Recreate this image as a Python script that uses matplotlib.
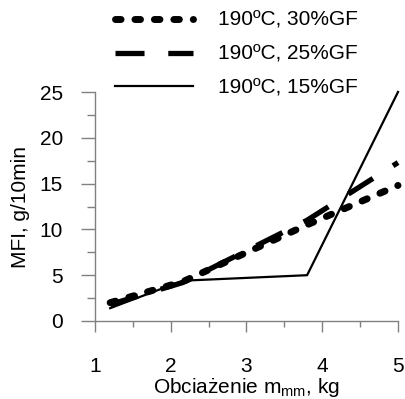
import matplotlib
matplotlib.use("Agg")
import matplotlib.pyplot as plt
from matplotlib.ticker import MultipleLocator

plt.rcParams['font.family'] = ['Liberation Sans', 'DejaVu Sans']
plt.rcParams['mathtext.fontset'] = 'custom'
plt.rcParams['mathtext.rm'] = 'Liberation Sans'
plt.rcParams['mathtext.it'] = 'Liberation Sans'

load_kg = [1.2, 2.16, 3.8, 5.0]
mfi_30gf = [2.0, 4.3, 10.5, 14.8]
mfi_25gf = [1.8, 4.2, 11.0, 17.3]
mfi_15gf = [1.4, 4.4, 5.0, 25.0]
labels = ["190ºC, 30%GF", "190ºC, 25%GF", "190ºC, 15%GF"]
xticks = [1, 2, 3, 4, 5]
yticks = [0, 5, 10, 15, 20, 25]

W, H = 406, 399
fig = plt.figure(figsize=(W/100, H/100), dpi=100)
ax = fig.add_axes([95/W, 1-321/H, (398-95)/W, (321-92)/H])

l1, = ax.plot(load_kg, mfi_30gf, color='black', lw=5, linestyle=(0, (0.8, 2.0)),
              dash_capstyle='round', label=labels[0])
l2, = ax.plot(load_kg, mfi_25gf, color='black', lw=3.8, linestyle=(0, (5.5, 4.5)),
              dash_capstyle='butt', label=labels[1])
l3, = ax.plot(load_kg, mfi_15gf, color='black', lw=1.6, label=labels[2])

ax.set_xlim(1, 5)
ax.set_ylim(0, 25)
ax.set_xticks(xticks)
ax.set_yticks(yticks)
ax.xaxis.set_minor_locator(MultipleLocator(0.5))
ax.yaxis.set_minor_locator(MultipleLocator(2.5))
for s in ['top', 'right']:
    ax.spines[s].set_visible(False)
for s in ['left', 'bottom']:
    ax.spines[s].set_color('#808080')
    ax.spines[s].set_linewidth(1.0)
ax.tick_params(axis='both', which='both', direction='out', color='#808080', width=1.0,
               labelsize=15, labelcolor='black')
ax.tick_params(axis='x', which='major', length=8.2, pad=18)
ax.tick_params(axis='x', which='minor', length=4)
ax.tick_params(axis='y', which='major', length=10, pad=13)
ax.tick_params(axis='y', which='minor', length=6)
for l in (l1, l2, l3):
    l.set_clip_on(False)

ax.set_xlabel("Obciażenie m$_{\\mathrm{mm}}$, kg", fontsize=15)
ax.xaxis.set_label_coords(0.5, (321-376)/229)
ax.set_ylabel("MFI, g/10min", fontsize=15)
ax.yaxis.set_label_coords((21-95)/303, 0.5)
ax.yaxis.label.set_va('center')

fig.legend(handles=[l1, l2, l3], labels=labels, loc='upper left',
           bbox_to_anchor=(115/W, 1-11/H), frameon=False, fontsize=15,
           handlelength=3.75, handletextpad=1.2, labelspacing=0.71,
           borderaxespad=0, borderpad=0)

fig.savefig("out.png", dpi=100)
